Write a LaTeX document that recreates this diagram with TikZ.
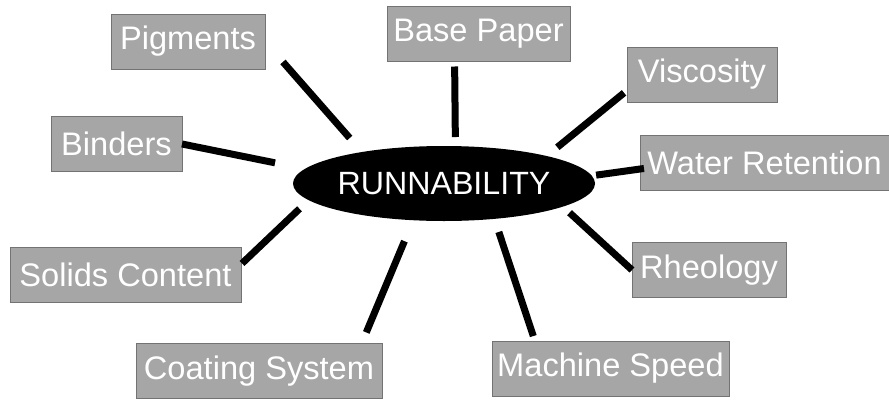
\documentclass[tikz,border=0pt]{standalone}
\usepackage{fontspec}
\setmainfont{Liberation Sans}
\usetikzlibrary{shapes.geometric,positioning}

\definecolor{boxgray}{gray}{0.65}
\definecolor{edgegray}{gray}{0.45}

\begin{document}
\begin{tikzpicture}[x=1pt,y=-1pt,
  hub node/.style={ellipse,fill=black,inner sep=0pt,outer sep=0pt,
    minimum width=302pt,minimum height=75pt,text=white,
    font=\fontsize{32.2}{38}\selectfont},
  factor node/.style={rectangle,fill=boxgray,draw=edgegray,line width=1pt,
    inner sep=2pt,outer sep=0pt,minimum height=55pt,text=white,
    font=\fontsize{32.6}{38}\selectfont},
  spoke/.style={line width=7pt}]
   \useasboundingbox (0,0) rectangle (889,399);
   \node[hub node] (runn) at (444,183.5) {RUNNABILITY};
   \node[factor node,minimum width=154pt] (pig)   at (188,41.5)   {Pigments};
   \node[factor node,minimum width=183pt] (base)  at (478.5,34)   {Base Paper};
   \node[factor node,minimum width=150pt] (visc)  at (702,74.5)   {Viscosity};
   \node[factor node,minimum width=131pt] (bind)  at (116.5,144)  {Binders};
   \node[factor node,minimum width=249pt] (water) at (764.5,162.5) {Water Retention};
   \node[factor node,minimum width=231pt] (solid) at (125.5,274.5) {Solids Content};
   \node[factor node,minimum width=154pt] (rheo)  at (709,270)    {Rheology};
   \node[factor node,minimum width=246pt] (coat)  at (259,371)    {Coating System};
   \node[factor node,minimum width=237pt] (mach)  at (610.5,368.5) {Machine Speed};
    \path[spoke]
    (runn.159)   edge [shorten <=18.6pt, shorten >=27.2pt] (pig.east)
    (runn.73.6)  edge [shorten <=9.1pt,  shorten >=5pt]    (base.229)
    (runn.15.4)  edge [shorten <=13.8pt, shorten >=3.8pt]  (visc.192)
    (runn.174.6) edge [shorten <=30.5pt]                   (bind.east)
    (runn.3.1)   edge [shorten <=4.4pt,  shorten >=-4pt]   (water.183)
    (runn.187.2) edge [shorten <=12.6pt, shorten >=1.4pt]  (solid.5.7)
    (runn.349.7) edge [shorten <=9pt]                      (rheo.west)
    (runn.230.8) edge [shorten <=22.7pt, shorten >=12pt]   (coat.15.5)
    (runn.325.4) edge [shorten <=13.8pt, shorten >=5.2pt]  (mach.160.8);
\end{tikzpicture}
\end{document}
